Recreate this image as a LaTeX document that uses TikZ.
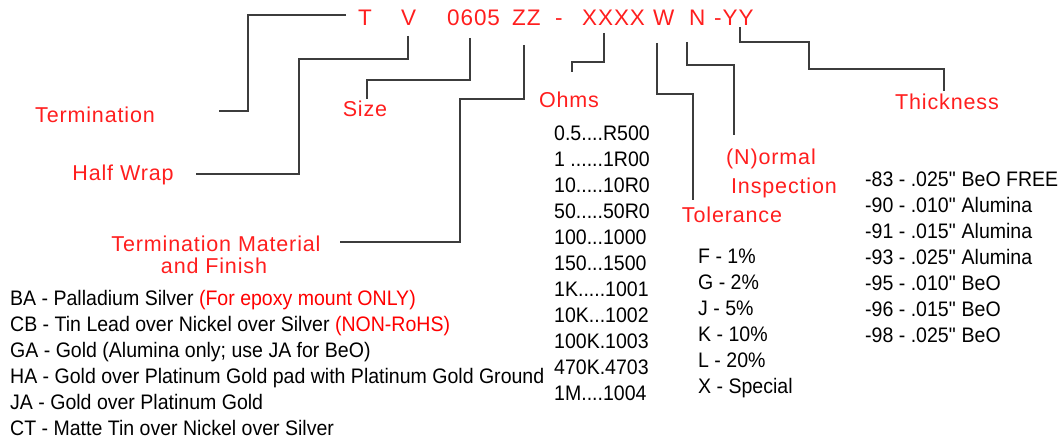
\documentclass[tikz,border=0pt]{standalone}
\usepackage{fontspec}
\setmainfont[FakeStretch=0.93]{Liberation Sans}
\newfontfamily\cadfont[LetterSpace=4]{Liberation Sans}
\definecolor{cadred}{RGB}{255,30,30}
\definecolor{leader}{RGB}{60,60,60}
\begin{document}
\begin{tikzpicture}[x=1pt,y=-1pt,
  hdr/.style={inner sep=0pt,anchor=base west,text=cadred,font=\cadfont\fontsize{22.5}{24}\selectfont},
  lbl/.style={inner sep=0pt,anchor=base,text=cadred,font=\cadfont\fontsize{21.5}{24}\selectfont},
  item/.style={inner sep=0pt,anchor=base west,font=\fontsize{21}{22}\selectfont},
  lead/.style={draw=leader,line width=1.4pt}]
\useasboundingbox (0,0) rectangle (1059,441);
% header
\node[hdr] (hT) at (358,26) {T};
\node[hdr] (hV) at (401,26) {V};
\node[hdr] (h0605) at (447,26) {0605};
\node[hdr] (hZZ) at (512,26) {ZZ};
\node[hdr] (hD) at (555,26) {-};
\node[hdr] (hX) at (582,26) {XXXX};
\node[hdr] (hW) at (653,26) {W};
\node[hdr] (hN) at (689,26) {N};
\node[hdr] (hY) at (714,26) {-YY};
% labels
\node[lbl] (lTerm) at (95,122) {Termination};
\node[lbl] (lSize) at (365,117) {Size};
\node[lbl] (lOhms) at (569,107) {Ohms};
\node[lbl] (lHalf) at (123,180) {Half Wrap};
\node[lbl] (lTM) at (216,251) {Termination Material};
\node[lbl] (lTM2) at (214,273) {and Finish};
\node[lbl] (lNorm) at (771,164) {(N)ormal};
\node[lbl] (lInsp) at (784,193) {Inspection};
\node[lbl] (lTol) at (732,222) {Tolerance};
\node[lbl] (lThk) at (947,110) {Thickness};
% leaders
\coordinate (sT) at (346,15);
\coordinate (eT) at (219,111);
\draw[lead] (sT) -| (248,111) -- (eT);
\coordinate (sV) at (408,36);
\coordinate (eV) at (196,174);
\draw[lead] (sV) |- (299,59) |- (eV);
\coordinate (s0605) at (470,38);
\coordinate (e0605) at (367,99);
\draw[lead] (s0605) |- (e0605 |- 0,80) -- (e0605);
\coordinate (sZZ) at (524,45);
\coordinate (eZZ) at (340,242);
\draw[lead] (sZZ) |- (460,99) |- (eZZ);
\coordinate (sX) at (604,33);
\coordinate (eX) at (572,72);
\draw[lead] (sX) |- (eX |- 0,62) -- (eX);
\coordinate (sW) at (657,43);
\coordinate (eW) at (693,200);
\draw[lead] (sW) |- (eW |- 0,94) -- (eW);
\coordinate (sN) at (687,42);
\coordinate (eN) at (734,135);
\draw[lead] (sN) |- (eN |- 0,65) -- (eN);
\coordinate (sY) at (740,27);
\coordinate (eY) at (944,91);
\draw[lead] (sY) |- (809,42) |- (eY |- 0,69) -- (eY);
% termination list
\node[item] (f1) at (10,305) {BA - Palladium Silver \textcolor{red}{(For epoxy mount ONLY)}};
\node[item] (f2) at (10,331) {CB - Tin Lead over Nickel over Silver \textcolor{red}{(NON-RoHS)}};
\node[item] (f3) at (10,357) {GA - Gold (Alumina only; use JA for BeO)};
\node[item] (f4) at (10,383) {HA - Gold over Platinum Gold pad with Platinum Gold Ground};
\node[item] (f5) at (10,409) {JA - Gold over Platinum Gold};
\node[item] (f6) at (10,435) {CT - Matte Tin over Nickel over Silver};
% ohms list
\node[item] (o1) at (554,140) {0.5....R500};
\node[item] (o2) at (554,166) {1 ......1R00};
\node[item] (o3) at (554,192) {10.....10R0};
\node[item] (o4) at (554,218) {50.....50R0};
\node[item] (o5) at (554,244) {100...1000};
\node[item] (o6) at (554,270) {150...1500};
\node[item] (o7) at (554,296) {1K.....1001};
\node[item] (o8) at (554,322) {10K...1002};
\node[item] (o9) at (554,348) {100K.1003};
\node[item] (o10) at (554,374) {470K.4703};
\node[item] (o11) at (554,400) {1M....1004};
% tolerance list
\node[item] (t1) at (698,263) {F - 1\%};
\node[item] (t2) at (698,289) {G - 2\%};
\node[item] (t3) at (698,315) {J - 5\%};
\node[item] (t4) at (698,341) {K - 10\%};
\node[item] (t5) at (698,367) {L - 20\%};
\node[item] (t6) at (698,393) {X - Special};
% thickness list
\node[item] (k1) at (865,186) {-83 - .025\textquotedbl{} BeO FREE};
\node[item] (k2) at (865,212) {-90 - .010\textquotedbl{} Alumina};
\node[item] (k3) at (865,238) {-91 - .015\textquotedbl{} Alumina};
\node[item] (k4) at (865,264) {-93 - .025\textquotedbl{} Alumina};
\node[item] (k5) at (865,290) {-95 - .010\textquotedbl{} BeO};
\node[item] (k6) at (865,316) {-96 - .015\textquotedbl{} BeO};
\node[item] (k7) at (865,342) {-98 - .025\textquotedbl{} BeO};
\end{tikzpicture}
\end{document}
